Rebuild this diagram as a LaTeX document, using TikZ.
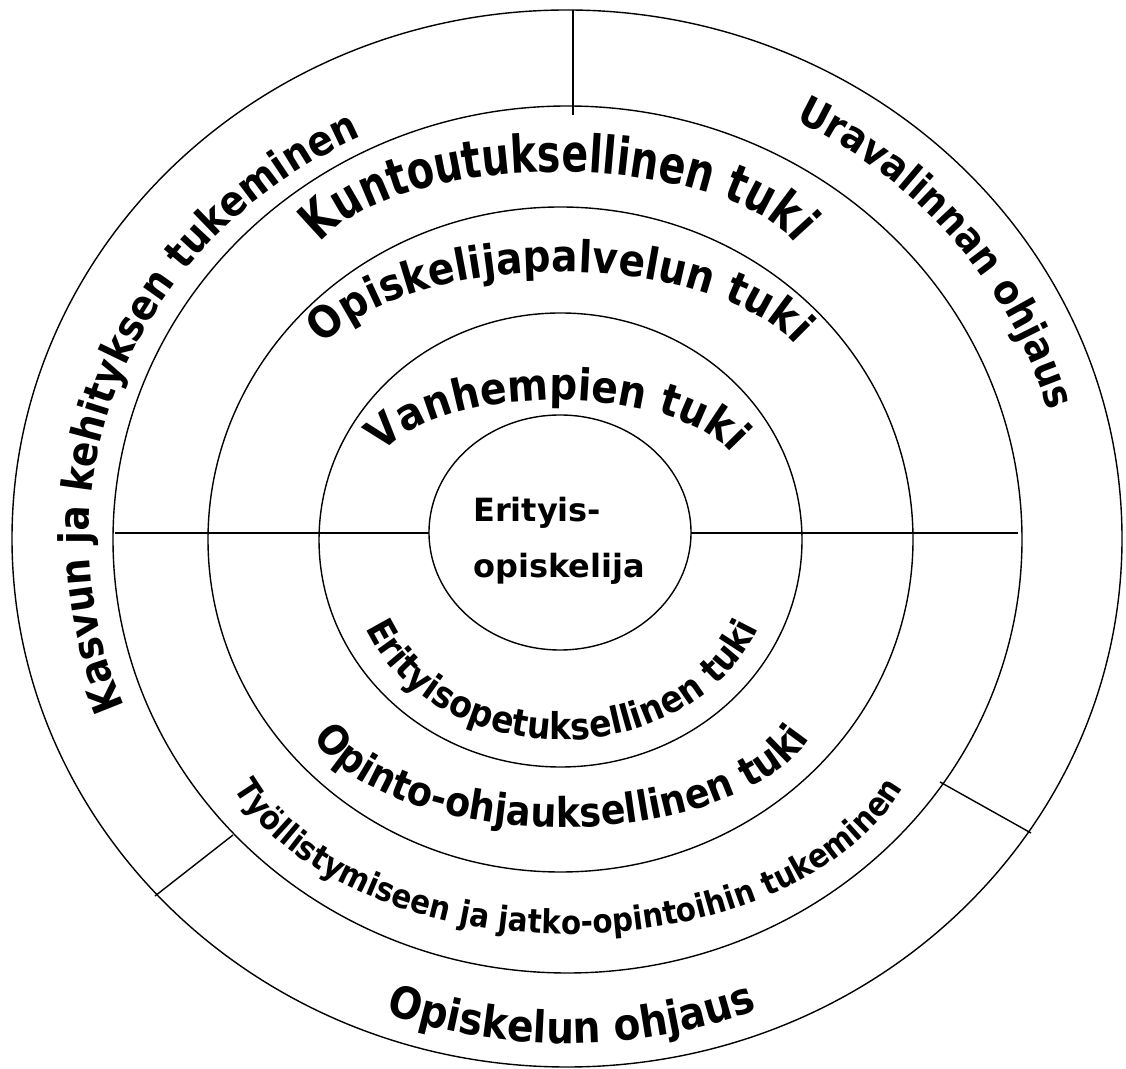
\documentclass[tikz,border=0pt]{standalone}
\usepackage{fontspec}
\setmainfont{DejaVu Sans}
\newfontfamily\arcfont{DejaVu Sans}[FakeStretch=0.89]
\newfontfamily\tallarcfont{DejaVu Sans}[FakeStretch=0.76]
\usetikzlibrary{decorations.text}

\tikzset{
  ring/.style={line width=1.4pt},
  divider/.style={line width=1.4pt},
  arclabel/.style 2 args={decorate, decoration={text along path, text align=center,
      text={|\arcfont\bfseries\fontsize{#1}{#1}\selectfont|#2}}},
  tallarclabel/.style 2 args={decorate, decoration={text along path, text align=center,
      text={|\tallarcfont\bfseries\fontsize{#1}{#1}\selectfont|#2}}}
}

\begin{document}
\begin{tikzpicture}[x=1pt,y=1pt]
  \useasboundingbox (0,0) rectangle (1126,1068);

  \coordinate (mid) at (567,529.5);
  \coordinate (kunt) at (558,793);
  \coordinate (opal) at (559.5,677.5);
  \coordinate (vanh) at (557,588);
  \coordinate (erop) at (562,504);
  \coordinate (opoh) at (561.5,368.7);
  \coordinate (tyol) at (568.5,356);

  \draw[ring] (mid) ellipse [x radius=555, y radius=528.5];
  \draw[ring] (567.5,528.5) ellipse [x radius=454.5, y radius=433.5];
  \draw[ring] (560.5,528.5) ellipse [x radius=352.5, y radius=332.5];
  \draw[ring] (560.5,528) ellipse [x radius=241.5, y radius=227];
  \draw[ring] (560,535.5) ellipse [x radius=131, y radius=117.5];

  \coordinate (topA) at (573,1058);
  \coordinate (topB) at (573,953);
  \coordinate (leftA) at (115,535);
  \coordinate (leftB) at (429,535);
  \coordinate (rightA) at (691,535);
  \coordinate (rightB) at (1018,535);
  \coordinate (swA) at (155,172);
  \coordinate (swB) at (233,233);
  \coordinate (seA) at (940,286);
  \coordinate (seB) at (1031,235);

  \draw[divider] (topA) -- (topB);
  \draw[divider] (leftA) -- (leftB);
  \draw[divider] (rightA) -- (rightB);
  \draw[divider] (swA) -- (swB);
  \draw[divider] (seA) -- (seB);


  \path[arclabel={42}{Kasvun ja kehityksen tukeminen}]
    ([shift={(209:478 and 445)}]mid) arc[start angle=209, end angle=109, x radius=478, y radius=445];
  \path[arclabel={41}{Uravalinnan ohjaus}]
    ([shift={(74:500 and 470)}]mid) arc[start angle=74, end angle=4, x radius=500, y radius=470];
  \path[arclabel={44}{Opiskelun ohjaus}]
    ([shift={(240.5:530 and 505)}]mid) arc[start angle=240.5, end angle=300.5, x radius=530, y radius=505];

  \path[tallarclabel={52}{Kuntoutuksellinen tuki}]
    ([shift={(172:249 and 103)}]kunt) arc[start angle=172, end angle=8, x radius=249, y radius=103];
  \path[arclabel={33}{Työllistymiseen ja jatko-opintoihin tukeminen}]
    ([shift={(192:356 and 222)}]tyol) arc[start angle=192, end angle=348, x radius=356, y radius=222];

  \path[arclabel={44}{Opiskelijapalvelun tuki}]
    ([shift={(172:255 and 118.5)}]opal) arc[start angle=172, end angle=8, x radius=255, y radius=118.5];
  \path[arclabel={41}{Opinto-ohjauksellinen tuki}]
    ([shift={(192:260 and 128)}]opoh) arc[start angle=192, end angle=348, x radius=260, y radius=128];

  \path[arclabel={44}{Vanhempien tuki}]
    ([shift={(175:185 and 80)}]vanh) arc[start angle=175, end angle=5, x radius=185, y radius=80];
  \path[arclabel={37}{Erityisopetuksellinen tuki}]
    ([shift={(192:211 and 176)}]erop) arc[start angle=192, end angle=348, x radius=211, y radius=176];

  \node[font=\bfseries\fontsize{32}{32}\selectfont, anchor=base west, inner sep=0pt] (erityis) at (473,546) {Erityis-};
  \node[font=\bfseries\fontsize{32}{32}\selectfont, anchor=base west, inner sep=0pt] (opiskelija) at (473,490) {opiskelija};
\end{tikzpicture}
\end{document}
